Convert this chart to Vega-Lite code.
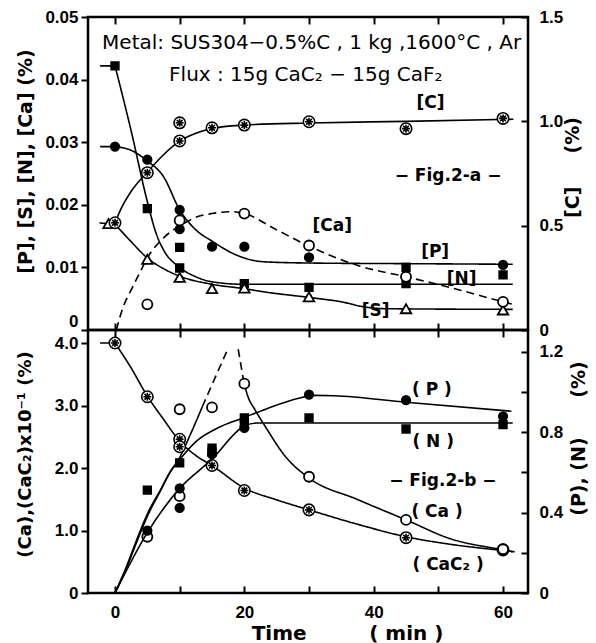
{
"$schema": "https://vega.github.io/schema/vega-lite/v6.json",
"background": "white",
"padding": {"left": 14, "top": 6, "right": 5, "bottom": 0},
"bounds": "flush",
"spacing": 0,
"config": {
  "view": {"stroke": "black", "strokeWidth": 2.5},
  "axis": {"domain": false, "grid": false, "labelFont": "Liberation Sans", "labelFontWeight": "bold", "labelFontSize": 17, "labelColor": "black", "tickColor": "black", "tickWidth": 2, "titleFont": "DejaVu Sans", "titleFontWeight": "bold", "titleFontSize": 19, "titleColor": "black"}
},
"datasets": {
  "topCurves": [
    {"s":"N0","d":"solid","t":-2.3,"v":0.0422},{"s":"N0","d":"solid","t":0,"v":0.0422},
    {"s":"N","d":"solid","t":0,"v":0.0422},{"s":"N","d":"solid","t":2.5,"v":0.0318},{"s":"N","d":"solid","t":5,"v":0.0205},{"s":"N","d":"solid","t":6.4,"v":0.0153},{"s":"N","d":"solid","t":7.5,"v":0.0128},{"s":"N","d":"solid","t":10,"v":0.0100},{"s":"N","d":"solid","t":12.5,"v":0.0085},{"s":"N","d":"solid","t":15,"v":0.0077},{"s":"N","d":"solid","t":20,"v":0.0073},{"s":"N","d":"solid","t":61.5,"v":0.0073},
    {"s":"P0","d":"solid","t":-2.3,"v":0.0293},{"s":"P0","d":"solid","t":0,"v":0.0293},
    {"s":"P","d":"solid","t":0,"v":0.0293},{"s":"P","d":"solid","t":2.5,"v":0.0287},{"s":"P","d":"solid","t":5,"v":0.0270},{"s":"P","d":"solid","t":7.5,"v":0.0245},{"s":"P","d":"solid","t":10,"v":0.0192},{"s":"P","d":"solid","t":12.5,"v":0.0160},{"s":"P","d":"solid","t":15,"v":0.0142},{"s":"P","d":"solid","t":18.5,"v":0.0121},{"s":"P","d":"solid","t":23,"v":0.0109},{"s":"P","d":"solid","t":30,"v":0.0107},{"s":"P","d":"solid","t":45,"v":0.0106},{"s":"P","d":"solid","t":61.5,"v":0.0105},
    {"s":"S0","d":"solid","t":-2.4,"v":0.0171},{"s":"S0","d":"solid","t":0,"v":0.0169},
    {"s":"S","d":"solid","t":0,"v":0.0169},{"s":"S","d":"solid","t":2.5,"v":0.0141},{"s":"S","d":"solid","t":5,"v":0.0115},{"s":"S","d":"solid","t":7.5,"v":0.0098},{"s":"S","d":"solid","t":10,"v":0.0086},{"s":"S","d":"solid","t":15,"v":0.0073},{"s":"S","d":"solid","t":20,"v":0.0066},{"s":"S","d":"solid","t":23,"v":0.0061},{"s":"S","d":"solid","t":30,"v":0.0052},{"s":"S","d":"solid","t":35,"v":0.0045},{"s":"S","d":"solid","t":38.5,"v":0.0037},{"s":"S","d":"solid","t":42,"v":0.0034},{"s":"S","d":"solid","t":61.5,"v":0.0033},
    {"s":"Ca","d":"dashed","t":0.2,"v":0.0},{"s":"Ca","d":"dashed","t":1.2,"v":0.0035},{"s":"Ca","d":"dashed","t":2.6,"v":0.0066},{"s":"Ca","d":"dashed","t":4,"v":0.0095},{"s":"Ca","d":"dashed","t":5,"v":0.0115},{"s":"Ca","d":"dashed","t":7.5,"v":0.0147},{"s":"Ca","d":"dashed","t":10.3,"v":0.0168},{"s":"Ca","d":"dashed","t":12.5,"v":0.0180},{"s":"Ca","d":"dashed","t":15,"v":0.0186},{"s":"Ca","d":"dashed","t":18,"v":0.0189},{"s":"Ca","d":"dashed","t":20,"v":0.0186},{"s":"Ca","d":"dashed","t":25,"v":0.0160},{"s":"Ca","d":"dashed","t":30,"v":0.0134},{"s":"Ca","d":"dashed","t":37.9,"v":0.0102},{"s":"Ca","d":"dashed","t":45,"v":0.0085},{"s":"Ca","d":"dashed","t":51.8,"v":0.0068},{"s":"Ca","d":"dashed","t":60,"v":0.0045},{"s":"Ca","d":"dashed","t":61.5,"v":0.0041}
  ],
  "topPoints": [
    {"m":"P","t":0,"v":0.0293},{"m":"P","t":5,"v":0.0272},{"m":"P","t":10,"v":0.0192},{"m":"P","t":10,"v":0.0161},{"m":"P","t":15,"v":0.0133},{"m":"P","t":20,"v":0.0133},{"m":"P","t":30,"v":0.0116},{"m":"P","t":60,"v":0.0104},
    {"m":"N","t":0,"v":0.0422},{"m":"N","t":5,"v":0.0194},{"m":"N","t":10,"v":0.0132},{"m":"N","t":10,"v":0.0099},{"m":"N","t":20,"v":0.0074},{"m":"N","t":30,"v":0.0068},{"m":"N","t":45,"v":0.0100},{"m":"N","t":45,"v":0.0074},{"m":"N","t":60,"v":0.0088},
    {"m":"S","t":-1,"v":0.0170},{"m":"S","t":5,"v":0.0113},{"m":"S","t":10,"v":0.0084},{"m":"S","t":15,"v":0.0066},{"m":"S","t":20,"v":0.0067},{"m":"S","t":30,"v":0.0053},{"m":"S","t":45,"v":0.0034},{"m":"S","t":60,"v":0.0032},
    {"m":"Ca","t":5,"v":0.0041},{"m":"Ca","t":10,"v":0.0175},{"m":"Ca","t":20,"v":0.0186},{"m":"Ca","t":30,"v":0.0135},{"m":"Ca","t":45,"v":0.0085},{"m":"Ca","t":60,"v":0.0045}
  ],
  "cCurve": [
    {"t":0,"c":0.514},{"t":1,"c":0.585},{"t":2.5,"c":0.665},{"t":5,"c":0.757},{"t":7.5,"c":0.84},{"t":10,"c":0.905},{"t":12.5,"c":0.943},{"t":15,"c":0.966},{"t":20,"c":0.982},{"t":30,"c":0.992},{"t":45,"c":1.0},{"t":61.6,"c":1.01}
  ],
  "cPoints": [
    {"t":0,"c":0.514},{"t":5,"c":0.754},{"t":10,"c":0.906},{"t":10,"c":0.993},{"t":15,"c":0.969},{"t":20,"c":0.982},{"t":30,"c":0.998},{"t":45,"c":0.965},{"t":60,"c":1.014}
  ],
  "topTextReg": [
    {"label":"Metal: SUS304−0.5%C , 1 kg ,1600°C , Ar","t":30.4,"v":0.04496},
    {"label":"Flux : 15g CaC₂ − 15g CaF₂","t":29.5,"v":0.03984}
  ],
  "topTextBold": [
    {"label":"[C]","t":48.8,"v":0.0355},{"label":"− Fig.2-a −","t":51.5,"v":0.0238},{"label":"[Ca]","t":33.6,"v":0.0158},{"label":"[P]","t":49.5,"v":0.0116},{"label":"[N]","t":53.6,"v":0.0074},{"label":"[S]","t":40.3,"v":0.0023}
  ],
  "botLeftCurves": [
    {"s":"C0","d":"solid","t":-2.3,"v":4.0},{"s":"C0","d":"solid","t":0,"v":4.0},
    {"s":"CaC2","d":"solid","t":0,"v":4.0},{"s":"CaC2","d":"solid","t":2.5,"v":3.6},{"s":"CaC2","d":"solid","t":5,"v":3.15},{"s":"CaC2","d":"solid","t":7.5,"v":2.78},{"s":"CaC2","d":"solid","t":10,"v":2.43},{"s":"CaC2","d":"solid","t":12.5,"v":2.2},{"s":"CaC2","d":"solid","t":15,"v":2.04},{"s":"CaC2","d":"solid","t":20,"v":1.68},{"s":"CaC2","d":"solid","t":25,"v":1.49},{"s":"CaC2","d":"solid","t":30,"v":1.33},{"s":"CaC2","d":"solid","t":37.5,"v":1.1},{"s":"CaC2","d":"solid","t":45,"v":0.9},{"s":"CaC2","d":"solid","t":52.5,"v":0.77},{"s":"CaC2","d":"solid","t":60,"v":0.68},{"s":"CaC2","d":"solid","t":61.8,"v":0.66},
    {"s":"CaR","d":"solid","t":0,"v":0},{"s":"CaR","d":"solid","t":1.7,"v":0.38},{"s":"CaR","d":"solid","t":3.3,"v":0.80},{"s":"CaR","d":"solid","t":5.1,"v":1.25},{"s":"CaR","d":"solid","t":7,"v":1.63},{"s":"CaR","d":"solid","t":8.5,"v":1.93},{"s":"CaR","d":"solid","t":10,"v":2.17},{"s":"CaR","d":"solid","t":11.5,"v":2.5},{"s":"CaR","d":"solid","t":13.5,"v":2.98},
    {"s":"CaRd","d":"dashed","t":13.5,"v":2.98},{"s":"CaRd","d":"dashed","t":15.5,"v":3.45},{"s":"CaRd","d":"dashed","t":17.3,"v":3.87},
    {"s":"CaFd","d":"dashed","t":19.05,"v":3.9},{"s":"CaFd","d":"dashed","t":19.84,"v":3.42},
    {"s":"CaF","d":"solid","t":19.84,"v":3.42},{"s":"CaF","d":"solid","t":20.5,"v":3.16},{"s":"CaF","d":"solid","t":21.6,"v":2.94},{"s":"CaF","d":"solid","t":23.2,"v":2.67},{"s":"CaF","d":"solid","t":26.3,"v":2.19},{"s":"CaF","d":"solid","t":30,"v":1.84},{"s":"CaF","d":"solid","t":37.4,"v":1.50},{"s":"CaF","d":"solid","t":45,"v":1.17},{"s":"CaF","d":"solid","t":51.8,"v":0.87},{"s":"CaF","d":"solid","t":60,"v":0.69},{"s":"CaF","d":"solid","t":61.5,"v":0.66}
  ],
  "botLeftPoints": [
    {"m":"CaC2","t":0,"v":4.0},{"m":"CaC2","t":5,"v":3.14},{"m":"CaC2","t":10,"v":2.46},{"m":"CaC2","t":10,"v":2.34},{"m":"CaC2","t":15,"v":2.04},{"m":"CaC2","t":20,"v":1.64},{"m":"CaC2","t":30,"v":1.33},{"m":"CaC2","t":45,"v":0.885},{"m":"CaC2","t":60,"v":0.69},
    {"m":"Ca","t":5,"v":0.90},{"m":"Ca","t":10,"v":2.94},{"m":"Ca","t":10,"v":1.55},{"m":"Ca","t":15,"v":2.97},{"m":"Ca","t":20,"v":3.35},{"m":"Ca","t":30,"v":1.86},{"m":"Ca","t":45,"v":1.17},{"m":"Ca","t":60,"v":0.70}
  ],
  "botRightCurves": [
    {"s":"P","t":0,"r":0},{"s":"P","t":1.7,"r":0.125},{"s":"P","t":3.3,"r":0.26},{"s":"P","t":5.1,"r":0.40},{"s":"P","t":7,"r":0.51},{"s":"P","t":8.5,"r":0.60},{"s":"P","t":9.8,"r":0.655},{"s":"P","t":12.6,"r":0.755},{"s":"P","t":16.2,"r":0.825},{"s":"P","t":19.8,"r":0.87},{"s":"P","t":23.4,"r":0.915},{"s":"P","t":28.4,"r":0.968},{"s":"P","t":31,"r":0.982},{"s":"P","t":34,"r":0.98},{"s":"P","t":45,"r":0.948},{"s":"P","t":61.3,"r":0.903},
    {"s":"N","t":0,"r":0},{"s":"N","t":5,"r":0.30},{"s":"N","t":10,"r":0.52},{"s":"N","t":15,"r":0.665},{"s":"N","t":20,"r":0.83},{"s":"N","t":22,"r":0.845},{"s":"N","t":61.5,"r":0.845}
  ],
  "botRightPoints": [
    {"m":"P","t":5,"r":0.31},{"m":"P","t":10,"r":0.52},{"m":"P","t":10,"r":0.423},{"m":"P","t":15,"r":0.69},{"m":"P","t":20,"r":0.82},{"m":"P","t":30,"r":0.986},{"m":"P","t":45,"r":0.958},{"m":"P","t":60,"r":0.878},
    {"m":"N","t":5,"r":0.511},{"m":"N","t":10,"r":0.647},{"m":"N","t":15,"r":0.72},{"m":"N","t":15,"r":0.70},{"m":"N","t":20,"r":0.87},{"m":"N","t":20,"r":0.845},{"m":"N","t":30,"r":0.87},{"m":"N","t":45,"r":0.815},{"m":"N","t":60,"r":0.837}
  ],
  "botTextBold": [
    {"label":"( P )","t":49,"v":3.17},{"label":"( N )","t":49.2,"v":2.34},{"label":"− Fig.2-b −","t":50.7,"v":1.71},{"label":"( Ca )","t":49.8,"v":1.21},{"label":"( CaC₂ )","t":51.5,"v":0.37}
  ]
},
"vconcat": [
  {
    "width": 440, "height": 313,
    "layer": [
      {"layer": [
        {"data": {"name": "topCurves"},
         "mark": {"type": "line", "interpolate": "monotone", "color": "black", "strokeWidth": 1.6},
         "encoding": {
           "x": {"field": "t", "type": "quantitative", "scale": {"domain": [-4.175, 63.86], "nice": false, "zero": false},
                 "axis": {"orient": "bottom", "values": [0,10,20,30,40,50,60], "labels": false, "tickSize": -7, "title": null}},
           "y": {"field": "v", "type": "quantitative", "scale": {"domain": [0, 0.05], "nice": false},
                 "axis": {"orient": "left", "values": [0,0.01,0.02,0.03,0.04,0.05], "labelExpr": "datum.value == 0 ? '0' : format(datum.value, '.2f')", "tickSize": 7, "labelPadding": 3,
                          "labelBaseline": {"condition": {"test": "datum.value == 0", "value": "bottom"}, "value": "middle"},
                          "title": "[P], [S], [N], [Ca]  (%)", "titleX": -63, "titleY": 144, "titleAngle": -90, "titleAlign": "center", "titleBaseline": "middle"}},
           "detail": {"field": "s"},
           "strokeDash": {"field": "d", "type": "nominal", "scale": {"domain": ["solid","dashed"], "range": [[1,0],[8,5]]}, "legend": null}
         }},
        {"data": {"name": "topPoints"}, "transform": [{"filter": "datum.m == 'P'"}],
         "mark": {"type": "point", "shape": "circle", "size": 75, "filled": true, "fill": "black", "stroke": "black", "strokeWidth": 1.6, "opacity": 1},
         "encoding": {"x": {"field": "t", "type": "quantitative"}, "y": {"field": "v", "type": "quantitative"}}},
        {"data": {"name": "topPoints"}, "transform": [{"filter": "datum.m == 'N'"}],
         "mark": {"type": "point", "shape": "square", "size": 60, "filled": true, "fill": "black", "stroke": "black", "strokeWidth": 1.6, "opacity": 1},
         "encoding": {"x": {"field": "t", "type": "quantitative"}, "y": {"field": "v", "type": "quantitative"}}},
        {"data": {"name": "topPoints"}, "transform": [{"filter": "datum.m == 'S'"}],
         "mark": {"type": "point", "shape": "triangle-up", "size": 110, "filled": true, "fill": "white", "stroke": "black", "strokeWidth": 1.8, "opacity": 1},
         "encoding": {"x": {"field": "t", "type": "quantitative"}, "y": {"field": "v", "type": "quantitative"}}},
        {"data": {"name": "topPoints"}, "transform": [{"filter": "datum.m == 'Ca'"}],
         "mark": {"type": "point", "shape": "circle", "size": 100, "filled": true, "fill": "white", "stroke": "black", "strokeWidth": 1.8, "opacity": 1},
         "encoding": {"x": {"field": "t", "type": "quantitative"}, "y": {"field": "v", "type": "quantitative"}}},
        {"data": {"name": "topTextReg"},
         "mark": {"type": "text", "font": "DejaVu Sans", "fontSize": 20, "align": "center", "baseline": "alphabetic", "color": "black"},
         "encoding": {"x": {"field": "t", "type": "quantitative"}, "y": {"field": "v", "type": "quantitative"}, "text": {"field": "label"}}},
        {"data": {"name": "topTextBold"},
         "mark": {"type": "text", "font": "DejaVu Sans", "fontWeight": "bold", "fontSize": 17, "align": "center", "baseline": "alphabetic", "color": "black"},
         "encoding": {"x": {"field": "t", "type": "quantitative"}, "y": {"field": "v", "type": "quantitative"}, "text": {"field": "label"}}}
      ]},
      {"layer": [
        {"data": {"name": "cCurve"},
         "mark": {"type": "line", "interpolate": "monotone", "color": "black", "strokeWidth": 1.6},
         "encoding": {
           "x": {"field": "t", "type": "quantitative", "axis": {"orient": "top", "values": [0,10,20,30,40,50,60], "labels": false, "tickSize": -7, "title": null}},
           "y": {"field": "c", "type": "quantitative", "scale": {"domain": [0, 1.5], "nice": false},
                 "axis": {"orient": "right", "values": [0,0.5,1,1.5], "labelExpr": "datum.value == 0 ? '0' : format(datum.value, '.1f')", "tickSize": -7, "labelPadding": 18,
                          "title": "[C]\u00a0\u00a0\u00a0\u00a0\u00a0(%)", "titleX": 44, "titleY": 150, "titleAngle": -90, "titleAlign": "center", "titleBaseline": "middle"}}
         }},
        {"data": {"name": "cPoints"},
         "mark": {"type": "point", "shape": "M1,0A1,1 0 1,1 -1,0A1,1 0 1,1 1,0Z M-0.7,0L0.7,0 M0,-0.7L0,0.7 M-0.5,-0.5L0.5,0.5 M-0.5,0.5L0.5,-0.5", "size": 130, "filled": true, "fill": "white", "stroke": "black", "strokeWidth": 1.6, "opacity": 1},
         "encoding": {"x": {"field": "t", "type": "quantitative"}, "y": {"field": "c", "type": "quantitative"}}}
      ]}
    ],
    "resolve": {"scale": {"y": "independent"}, "axis": {"x": "independent"}}
  },
  {
    "width": 440, "height": 263,
    "layer": [
      {"layer": [
        {"data": {"name": "botLeftCurves"},
         "mark": {"type": "line", "interpolate": "monotone", "color": "black", "strokeWidth": 1.6},
         "encoding": {
           "x": {"field": "t", "type": "quantitative", "scale": {"domain": [-4.175, 63.86], "nice": false, "zero": false},
                 "axis": {"orient": "bottom", "values": [0,10,20,30,40,50,60], "labelExpr": "datum.value % 20 == 0 ? datum.label : ''", "tickSize": -7, "labelPadding": 18,
                          "title": "Time\u00a0\u00a0\u00a0\u00a0\u00a0\u00a0\u00a0\u00a0\u00a0( min )", "titleFontSize": 20, "titleX": 259, "titleY": 46, "titleAlign": "center", "titleBaseline": "alphabetic"}},
           "y": {"field": "v", "type": "quantitative", "scale": {"domain": [0, 4.208], "nice": false},
                 "axis": {"orient": "left", "values": [0,1,2,3,4], "labelExpr": "datum.value == 0 ? '0' : format(datum.value, '.1f')", "tickSize": 7, "labelPadding": 3,
                          "title": "(Ca),(CaC₂)x10⁻¹ (%)", "titleFontSize": 18, "titleX": -63, "titleY": 124, "titleAngle": -90, "titleAlign": "center", "titleBaseline": "middle"}},
           "detail": {"field": "s"},
           "strokeDash": {"field": "d", "type": "nominal", "scale": {"domain": ["solid","dashed"], "range": [[1,0],[8,5]]}, "legend": null}
         }},
        {"data": {"name": "botLeftPoints"}, "transform": [{"filter": "datum.m == 'CaC2'"}],
         "mark": {"type": "point", "shape": "M1,0A1,1 0 1,1 -1,0A1,1 0 1,1 1,0Z M-0.7,0L0.7,0 M0,-0.7L0,0.7 M-0.5,-0.5L0.5,0.5 M-0.5,0.5L0.5,-0.5", "size": 130, "filled": true, "fill": "white", "stroke": "black", "strokeWidth": 1.6, "opacity": 1},
         "encoding": {"x": {"field": "t", "type": "quantitative"}, "y": {"field": "v", "type": "quantitative"}}},
        {"data": {"name": "botLeftPoints"}, "transform": [{"filter": "datum.m == 'Ca'"}],
         "mark": {"type": "point", "shape": "circle", "size": 100, "filled": true, "fill": "white", "stroke": "black", "strokeWidth": 1.8, "opacity": 1},
         "encoding": {"x": {"field": "t", "type": "quantitative"}, "y": {"field": "v", "type": "quantitative"}}},
        {"data": {"name": "botTextBold"},
         "mark": {"type": "text", "font": "DejaVu Sans", "fontWeight": "bold", "fontSize": 17, "align": "center", "baseline": "alphabetic", "color": "black"},
         "encoding": {"x": {"field": "t", "type": "quantitative"}, "y": {"field": "v", "type": "quantitative"}, "text": {"field": "label"}}}
      ]},
      {"layer": [
        {"data": {"name": "botRightCurves"},
         "mark": {"type": "line", "interpolate": "monotone", "color": "black", "strokeWidth": 1.6},
         "encoding": {
           "x": {"field": "t", "type": "quantitative", "axis": {"orient": "top", "values": [0,10,20,30,40,50,60], "labels": false, "tickSize": -7, "title": null}},
           "y": {"field": "r", "type": "quantitative", "scale": {"domain": [0, 1.307], "nice": false},
                 "axis": {"orient": "right", "values": [0,0.2,0.4,0.6,0.8,1.0,1.2], "labelExpr": "datum.value == 0 ? '0' : (round(datum.value*10) % 4 == 0 ? format(datum.value, '.1f') : '')", "tickSize": -7, "labelPadding": 18,
                          "title": "(P), (N)\u00a0\u00a0\u00a0\u00a0\u00a0\u00a0(%)", "titleX": 50, "titleY": 108, "titleAngle": -90, "titleAlign": "center", "titleBaseline": "middle"}},
           "detail": {"field": "s"}
         }},
        {"data": {"name": "botRightPoints"}, "transform": [{"filter": "datum.m == 'P'"}],
         "mark": {"type": "point", "shape": "circle", "size": 75, "filled": true, "fill": "black", "stroke": "black", "strokeWidth": 1.6, "opacity": 1},
         "encoding": {"x": {"field": "t", "type": "quantitative"}, "y": {"field": "r", "type": "quantitative"}}},
        {"data": {"name": "botRightPoints"}, "transform": [{"filter": "datum.m == 'N'"}],
         "mark": {"type": "point", "shape": "square", "size": 60, "filled": true, "fill": "black", "stroke": "black", "strokeWidth": 1.6, "opacity": 1},
         "encoding": {"x": {"field": "t", "type": "quantitative"}, "y": {"field": "r", "type": "quantitative"}}}
      ]}
    ],
    "resolve": {"scale": {"y": "independent"}, "axis": {"x": "independent"}}
  }
]
}
